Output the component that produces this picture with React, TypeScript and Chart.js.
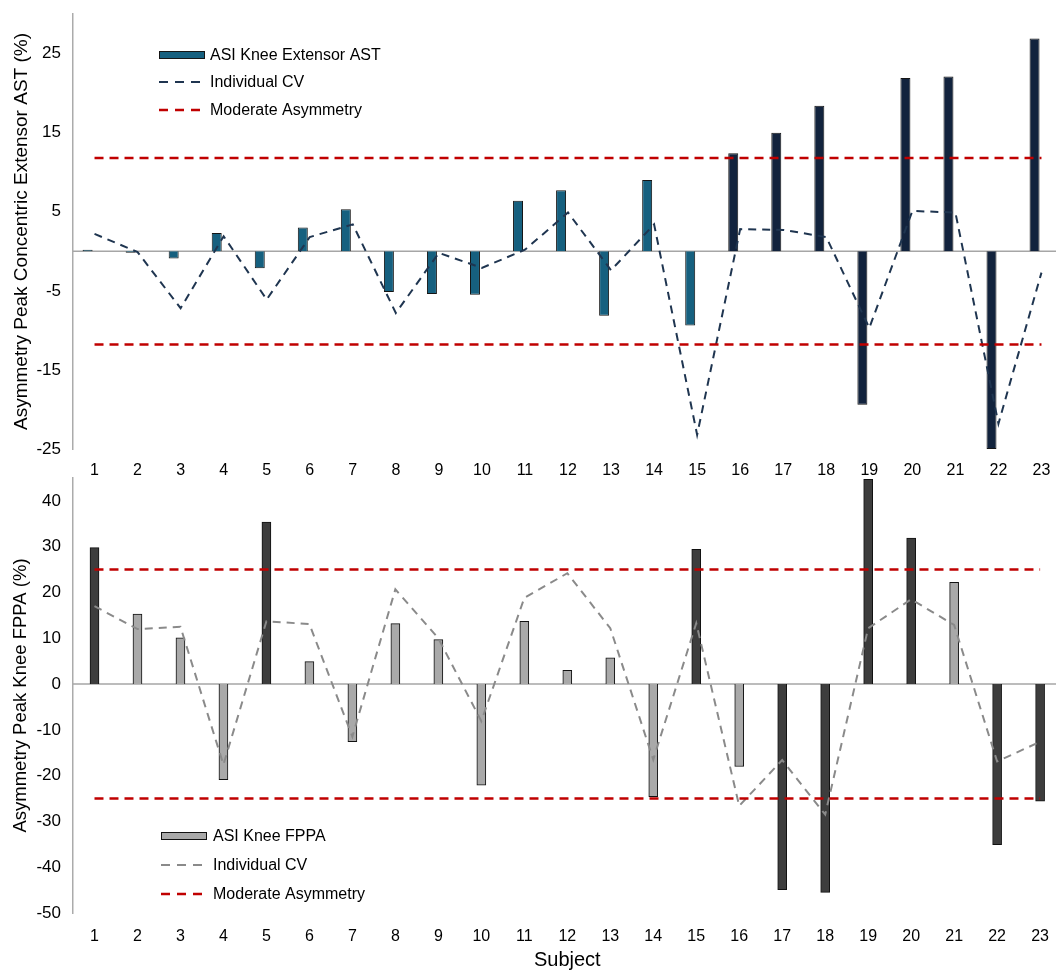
import React, { useEffect, useRef } from 'react';
import { Chart, registerables } from 'chart.js';

Chart.register(...registerables);

// ---------- data ----------
const subjects = ['1', '2', '3', '4', '5', '6', '7', '8', '9', '10', '11', '12', '13', '14', '15', '16', '17', '18', '19', '20', '21', '22', '23'];

const extAsi = [0.2, -0.2, -0.9, 2.3, -2.15, 3.0, 5.3, -5.15, -5.4, -5.5, 6.4, 7.7, -8.15, 9.0, -9.4, 12.4, 15.0, 18.4, -19.4, 21.9, 22.1, -25.0, 26.9];
const extCv = [2.2, -0.1, -7.2, 1.9, -6.1, 1.8, 3.4, -7.8, -0.2, -2.1, 0.2, 4.9, -2.4, 3.4, -23.2, 2.8, 2.7, 1.8, -9.7, 5.1, 4.9, -21.8, -2.7];
const extThreshold = 11.8;
const extTicks = [-25, -15, -5, 5, 15, 25];
const extRange = [-25, 30];

const fppaAsi = [29.8, 15.3, 10.1, -20.9, 35.4, 4.9, -12.6, 13.2, 9.7, -22.1, 13.7, 3.0, 5.7, -24.6, 29.4, -18.0, -44.9, -45.5, 44.7, 31.9, 22.2, -35.1, -25.6];
const fppaCv = [17.0, 12.0, 12.5, -17.6, 13.7, 13.1, -11.5, 20.7, 10.0, -8.1, 18.8, 24.2, 12.2, -16.5, 13.3, -26.6, -16.6, -28.5, 12.2, 18.5, 12.9, -16.9, -12.6];
const fppaThreshold = 25;
const fppaTicks = [-50, -40, -30, -20, -10, 0, 10, 20, 30, 40];
const fppaRange = [-50, 45];

// ---------- styles ----------
const FONT = "'Liberation Sans', Arial, sans-serif";
const RED = '#c00000';
const EXT_BLUE = '#16607f';
const EXT_NAVY = '#12233d';
const EXT_CV = '#1f3550';
const FPPA_DARK = '#3d3d3d';
const FPPA_LIGHT = '#a9a9a9';
const FPPA_CV = '#8a8a8a';
const CANVAS_W = 1063;
const PAD_TOP = 30;

Chart.defaults.font.family = FONT;
Chart.defaults.color = '#000';

const zeroLinePlugin = {
  id: 'zeroLine',
  beforeDatasetsDraw(chart: any) {
    const { ctx, chartArea, scales } = chart;
    const y = scales.y.getPixelForValue(0);
    ctx.save();
    ctx.strokeStyle = '#a6a6a6';
    ctx.lineWidth = 1.5;
    ctx.beginPath();
    ctx.moveTo(chartArea.left, y);
    ctx.lineTo(chartArea.right, y);
    ctx.stroke();
    ctx.restore();
  },
};

type LegendItem = { label: string; kind: 'bar' | 'line'; color: string; stroke?: string; dash?: number[]; width?: number };

function makeLegendPlugin(items: LegendItem[], symX: number, textX: number, rows: number[]) {
  return {
    id: 'manualLegend',
    afterDraw(chart: any) {
      const ctx = chart.ctx;
      ctx.save();
      items.forEach((it, i) => {
        const y = rows[i];
        if (it.kind === 'bar') {
          ctx.fillStyle = it.color;
          ctx.fillRect(symX, y - 4, 46, 8);
          ctx.strokeStyle = it.stroke || '#111';
          ctx.lineWidth = 1;
          ctx.strokeRect(symX + 0.5, y - 3.5, 45, 7);
        } else {
          ctx.setLineDash(it.dash || []);
          ctx.strokeStyle = it.color;
          ctx.lineWidth = it.width || 2;
          ctx.beginPath();
          ctx.moveTo(symX, y);
          ctx.lineTo(symX + 41, y);
          ctx.stroke();
          ctx.setLineDash([]);
        }
        ctx.fillStyle = '#000';
        ctx.font = `16px ${FONT}`;
        ctx.textBaseline = 'middle';
        ctx.textAlign = 'left';
        ctx.fillText(it.label, textX, y + 1);
      });
      ctx.restore();
    },
  };
}

function yAxis(range: number[], ticks: number[], title: string, titleSize: number) {
  return {
    min: range[0],
    max: range[1],
    afterBuildTicks: (s: any) => {
      s.ticks = ticks.map((v) => ({ value: v }));
    },
    afterFit: (s: any) => {
      s.width = 73;
    },
    grid: { display: false, drawTicks: false },
    border: { display: true, color: '#ababab', width: 1.5 },
    ticks: { padding: 12, font: { size: 17 }, color: '#000' },
    title: { display: true, text: title, font: { size: titleSize }, color: '#000', padding: { top: 10, bottom: 0 } },
  };
}

function xAxis(height: number, padding: number, title?: string) {
  return {
    afterFit: (s: any) => {
      s.height = height;
    },
    grid: { display: false, drawTicks: false },
    border: { display: false },
    ticks: { padding, font: { size: 16 }, color: '#000', maxRotation: 0, autoSkip: false },
    title: title
      ? { display: true, text: title, font: { size: 20 }, color: '#000', padding: { top: 0, bottom: 0 } }
      : { display: false },
  };
}

function topConfig(): any {
  const barLabel = 'ASI Knee Extensor AST';
  const cvLabel = 'Individual CV';
  const thLabel = 'Moderate Asymmetry';
  return {
    type: 'bar',
    data: {
      labels: subjects,
      datasets: [
        { type: 'line', label: thLabel, data: subjects.map(() => extThreshold), borderColor: RED, borderWidth: 2.5, borderDash: [9, 6], pointRadius: 0, fill: false, order: 0 },
        { type: 'line', label: thLabel + ' (neg)', data: subjects.map(() => -extThreshold), borderColor: RED, borderWidth: 2.5, borderDash: [9, 6], pointRadius: 0, fill: false, order: 0 },
        { type: 'line', label: cvLabel, data: extCv, borderColor: EXT_CV, borderWidth: 2, borderDash: [8, 6], pointRadius: 0, fill: false, tension: 0, order: 1 },
        {
          type: 'bar',
          label: barLabel,
          data: extAsi,
          backgroundColor: extAsi.map((v) => (Math.abs(v) > extThreshold ? EXT_NAVY : EXT_BLUE)),
          borderColor: '#151515',
          borderWidth: 1,
          categoryPercentage: 0.644,
          barPercentage: 0.72,
          order: 2,
        },
        {
          type: 'bar',
          label: '',
          data: subjects.map(() => null),
          categoryPercentage: 0.644,
          barPercentage: 0.72,
          order: 3,
        },
      ],
    },
    options: {
      responsive: false,
      animation: false,
      devicePixelRatio: 1,
      layout: { padding: { top: PAD_TOP, left: 0, right: 0, bottom: 0 } },
      plugins: { legend: { display: false }, tooltip: { enabled: false } },
      scales: {
        x: xAxis(40, 12),
        y: yAxis(extRange, extTicks, 'Asymmetry Peak Concentric Extensor AST (%)', 19),
      },
    },
    plugins: [
      zeroLinePlugin,
      makeLegendPlugin(
        [
          { label: barLabel, kind: 'bar', color: EXT_BLUE, stroke: '#151515' },
          { label: cvLabel, kind: 'line', color: EXT_CV, dash: [9, 7], width: 2 },
          { label: thLabel, kind: 'line', color: RED, dash: [9, 7], width: 2.5 },
        ],
        159,
        210,
        [71, 98, 126],
      ),
    ],
  };
}

function bottomConfig(): any {
  const barLabel = 'ASI Knee FPPA';
  const cvLabel = 'Individual CV';
  const thLabel = 'Moderate Asymmetry';
  return {
    type: 'bar',
    data: {
      labels: subjects,
      datasets: [
        { type: 'line', label: thLabel, data: subjects.map(() => fppaThreshold), borderColor: RED, borderWidth: 2.5, borderDash: [9, 6], pointRadius: 0, fill: false, order: 0 },
        { type: 'line', label: thLabel + ' (neg)', data: subjects.map(() => -fppaThreshold), borderColor: RED, borderWidth: 2.5, borderDash: [9, 6], pointRadius: 0, fill: false, order: 0 },
        { type: 'line', label: cvLabel, data: fppaCv, borderColor: FPPA_CV, borderWidth: 2, borderDash: [8, 6], pointRadius: 0, fill: false, tension: 0, order: 1 },
        {
          type: 'bar',
          label: barLabel,
          data: fppaAsi,
          backgroundColor: fppaAsi.map((v) => (Math.abs(v) > fppaThreshold ? FPPA_DARK : FPPA_LIGHT)),
          borderColor: '#111',
          borderWidth: 1,
          barThickness: 9,
          order: 2,
        },
      ],
    },
    options: {
      responsive: false,
      animation: false,
      devicePixelRatio: 1,
      layout: { padding: { top: PAD_TOP, left: 0, right: 0, bottom: 0 } },
      plugins: { legend: { display: false }, tooltip: { enabled: false } },
      scales: {
        x: xAxis(59, 14, 'Subject'),
        y: yAxis(fppaRange, fppaTicks, 'Asymmetry Peak Knee FPPA (%)', 18.5),
      },
    },
    plugins: [
      zeroLinePlugin,
      makeLegendPlugin(
        [
          { label: barLabel, kind: 'bar', color: FPPA_LIGHT, stroke: '#111' },
          { label: cvLabel, kind: 'line', color: FPPA_CV, dash: [9, 7], width: 2 },
          { label: thLabel, kind: 'line', color: RED, dash: [9, 7], width: 2.5 },
        ],
        161,
        213,
        [388, 417, 446],
      ),
    ],
  };
}

export default function App() {
  const topRef = useRef<HTMLCanvasElement>(null);
  const botRef = useRef<HTMLCanvasElement>(null);

  useEffect(() => {
    const c1 = new Chart(topRef.current as HTMLCanvasElement, topConfig());
    const c2 = new Chart(botRef.current as HTMLCanvasElement, bottomConfig());
    return () => {
      c1.destroy();
      c2.destroy();
    };
  }, []);

  return (
    <div style={{ position: 'absolute', left: 0, top: 0, width: 1056, height: 970, overflow: 'hidden', background: '#fff' }}>
      <canvas ref={topRef} width={CANVAS_W} height={505} style={{ position: 'absolute', left: 0, top: -16 }} />
      <canvas ref={botRef} width={CANVAS_W} height={524} style={{ position: 'absolute', left: 0, top: 448 }} />
    </div>
  );
}
